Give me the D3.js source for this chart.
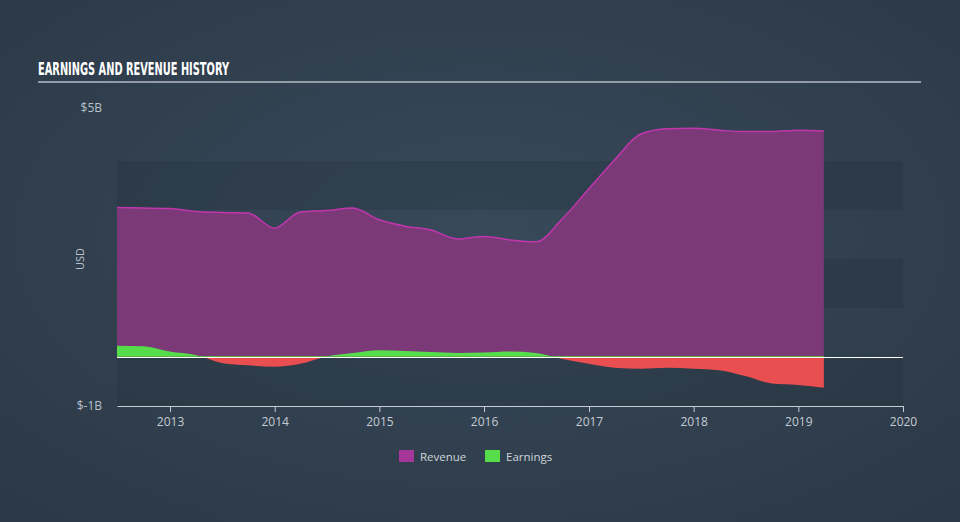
<!DOCTYPE html>
<html><head><meta charset="utf-8">
<script src="https://cdn.jsdelivr.net/npm/d3@7"></script>
<style>body{margin:0;background:#344454;}svg{display:block;}</style>
</head><body>
<svg id="c" width="960" height="522"></svg>
<script>
const dates = ["2012-06-30","2012-09-30","2012-12-31","2013-03-31","2013-06-30","2013-09-30","2013-12-31","2014-03-31","2014-06-30","2014-09-30","2014-12-31","2015-03-31","2015-06-30","2015-09-30","2015-12-31","2016-03-31","2016-06-30","2016-09-30","2016-12-31","2017-03-31","2017-06-30","2017-09-30","2017-12-31","2018-03-31","2018-06-30","2018-09-30","2018-12-31","2019-03-31"];
const revenue = [3.05,3.04,3.03,2.97,2.95,2.94,2.63,2.96,2.99,3.04,2.80,2.67,2.59,2.41,2.46,2.39,2.35,2.82,3.43,4.02,4.55,4.66,4.67,4.63,4.60,4.60,4.63,4.61];
const earnings = [0.23,0.22,0.11,0.04,-0.12,-0.17,-0.20,-0.14,0.01,0.08,0.14,0.12,0.10,0.08,0.09,0.11,0.08,-0.04,-0.14,-0.22,-0.24,-0.22,-0.24,-0.27,-0.39,-0.54,-0.57,-0.63];
const yearTicks = [2013,2014,2015,2016,2017,2018,2019,2020];
const yLabels = [5,-1];
const bandRanges = [[3,4],[1,2],[-1,0]];

const parse = d3.timeParse("%Y-%m-%d");
const data = dates.map((d,i)=>({date:parse(d), rev:revenue[i], earn:earnings[i]}));

const svg = d3.select("#c");
const W=960,H=522;
const defs = svg.append("defs");
const rg = defs.append("radialGradient").attr("id","bg").attr("cx","50%").attr("cy","45%").attr("r","70%");
rg.append("stop").attr("offset","0%").attr("stop-color","#38495a");
rg.append("stop").attr("offset","100%").attr("stop-color","#2c3947");
svg.append("rect").attr("width",W).attr("height",H).attr("fill","url(#bg)");

const x = d3.scaleTime().domain([parse("2012-06-30"), new Date(2020,0,1)]).range([117,903]);
const y = d3.scaleLinear().domain([-1,5]).range([406,112]);

// bands
svg.selectAll("rect.band").data(bandRanges).enter().append("rect")
  .attr("x",117).attr("width",903-117)
  .attr("y",d=>y(d[1])).attr("height",d=>y(d[0])-y(d[1]))
  .attr("fill","#26313d").attr("opacity",0.3);

// title
svg.append("text").attr("x",38).attr("y",75).text("EARNINGS AND REVENUE HISTORY")
  .attr("fill","#ffffff").attr("font-family","'Liberation Sans Narrow','DejaVu Sans Condensed',sans-serif")
  .attr("font-weight","bold").attr("font-size",17).attr("textLength",191).attr("lengthAdjust","spacingAndGlyphs");
svg.append("line").attr("x1",38).attr("x2",921).attr("y1",82).attr("y2",82).attr("stroke","#b4bcc4").attr("stroke-width",1.5);

const curve = d3.curveMonotoneX;
// revenue area
svg.append("path").datum(data)
  .attr("d",d3.area().curve(curve).x(d=>x(d.date)).y0(y(0)).y1(d=>y(d.rev)))
  .attr("fill","#7b3977");
svg.append("path").datum(data)
  .attr("d",d3.line().curve(curve).x(d=>x(d.date)).y(d=>y(d.rev)))
  .attr("fill","none").attr("stroke","#c236ad").attr("stroke-width",1.5);

// earnings area with clip for positive/negative
defs.append("clipPath").attr("id","pos").append("rect").attr("x",0).attr("y",0).attr("width",W).attr("height",y(0));
defs.append("clipPath").attr("id","neg").append("rect").attr("x",0).attr("y",y(0)).attr("width",W).attr("height",H);
const earnArea = d3.area().curve(curve).x(d=>x(d.date)).y0(y(0)).y1(d=>y(d.earn));
svg.append("path").datum(data).attr("d",earnArea).attr("fill","#56dd4c").attr("clip-path","url(#pos)");
svg.append("path").datum(data).attr("d",earnArea).attr("fill","#e94e50").attr("clip-path","url(#neg)");

// zero line
svg.append("line").attr("x1",117).attr("x2",903).attr("y1",y(0)+0.5).attr("y2",y(0)+0.5).attr("stroke","#ffffff").attr("stroke-width",1).attr("shape-rendering","crispEdges");
svg.append("line").attr("x1",x(data[0].date)).attr("x2",x(data[data.length-1].date)).attr("y1",y(0)-0.5).attr("y2",y(0)-0.5).attr("stroke","#5fae4a").attr("stroke-width",1).attr("shape-rendering","crispEdges");

// y labels
svg.selectAll("text.yl").data(yLabels).enter().append("text")
  .attr("x",102).attr("y",d=>y(d)).attr("dy",d=>d>0?"0":"0.3em").attr("text-anchor","end")
  .attr("fill","#b9c1c9").attr("font-family","'Open Sans',sans-serif").attr("font-size",12)
  .text(d=>"$"+d+"B");
svg.append("text").attr("transform","translate(84,259) rotate(-90)").attr("text-anchor","middle")
  .attr("fill","#b9c1c9").attr("font-family","'Open Sans',sans-serif").attr("font-size",11).text("USD");

// x axis
const xa = svg.append("g").attr("transform",`translate(0,${y(-1)})`)
  .call(d3.axisBottom(x).tickValues(yearTicks.map(v=>new Date(v,0,1))).tickFormat(d3.timeFormat("%Y")).tickSize(6).tickSizeOuter(0));
xa.select(".domain").attr("stroke","#c5ccd3");
xa.selectAll(".tick line").attr("stroke","#c5ccd3");
xa.selectAll(".tick text").attr("fill","#c5ccd3").attr("font-family","'Open Sans',sans-serif").attr("font-size",12).attr("dy","0.9em");

// legend
const leg = [{n:"Revenue",c:"#a6369a",x:399},{n:"Earnings",c:"#56dd4c",x:485}];
const lg = svg.selectAll("g.leg").data(leg).enter().append("g").attr("transform",d=>`translate(${d.x},450)`);
lg.append("rect").attr("width",15).attr("height",12).attr("fill",d=>d.c);
lg.append("text").attr("x",21).attr("y",10.5).text(d=>d.n).attr("fill","#d0d5da")
  .attr("font-family","'Open Sans',sans-serif").attr("font-size",11.5);
</script>
</body></html>
